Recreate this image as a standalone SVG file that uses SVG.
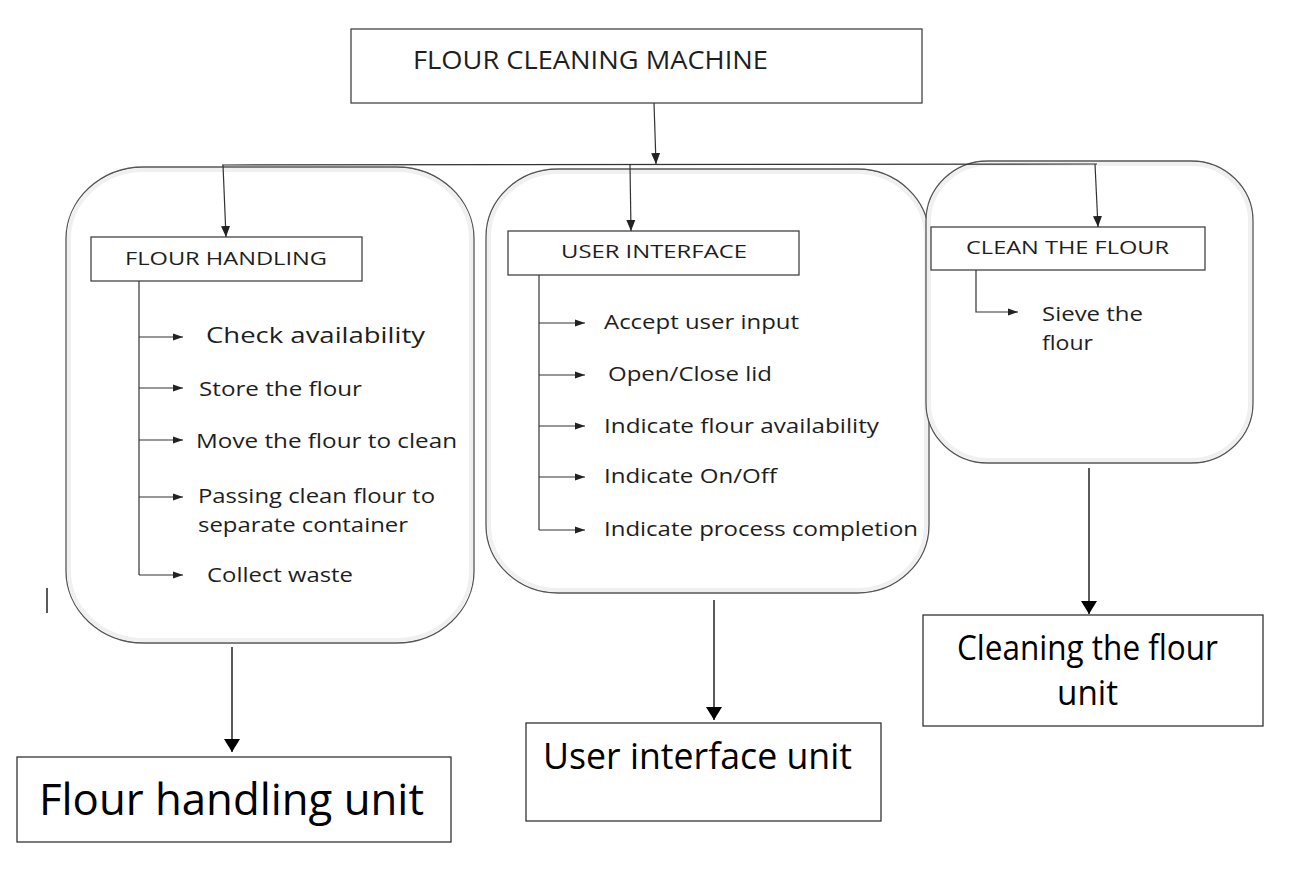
<svg xmlns="http://www.w3.org/2000/svg" width="1301" height="870" viewBox="0 0 1301 870">
<style>
  .t { font-family: "Open Sans", "Noto Sans", "Liberation Sans", sans-serif; fill: #1e1e1e; }
  .big { font-family: "Open Sans", "Noto Sans", "Liberation Sans", sans-serif; fill: #000; }
  .box { fill: #fff; stroke: #333; stroke-width: 1.3; }
  .hdr { fill: #fff; stroke: #444; stroke-width: 1.3; }
  .round { fill: #fff; stroke: #555; stroke-width: 1.3; }
  .shade { fill: none; stroke: #f0f0f0; stroke-width: 4; }
  .ln { fill: none; stroke: #333; stroke-width: 1.2; }
  .lnb { fill: none; stroke: #000; stroke-width: 1.3; }
</style>
<defs>
  <marker id="ah" markerUnits="userSpaceOnUse" markerWidth="12" markerHeight="10" refX="11" refY="5" orient="auto">
    <path d="M0,0.5 L11,5 L0,9.5 Z" fill="#222"/>
  </marker>
  <marker id="ahs" markerUnits="userSpaceOnUse" markerWidth="10" markerHeight="8" refX="10" refY="4" orient="auto">
    <path d="M0,0.5 L10,4 L0,7.5 Z" fill="#222"/>
  </marker>
  <marker id="ahb" markerUnits="userSpaceOnUse" markerWidth="14" markerHeight="16" refX="13" refY="8" orient="auto">
    <path d="M0,0 L13,8 L0,16 Z" fill="#000"/>
  </marker>
</defs>
<rect width="1301" height="870" fill="#fff"/>

<g id="group-flour-handling">
  <rect class="round" x="66" y="167" width="408" height="476" rx="78" ry="72"/>
  <rect class="shade" x="69" y="170" width="402" height="470" rx="75" ry="69"/>
</g>
<g id="group-user-interface">
  <rect class="round" x="486" y="169" width="443" height="424" rx="72" ry="68"/>
  <rect class="shade" x="489" y="172" width="437" height="418" rx="69" ry="65"/>
</g>
<g id="group-clean-the-flour">
  <rect class="round" x="926" y="161" width="327" height="302" rx="62" ry="60"/>
  <rect class="shade" x="929" y="164" width="321" height="296" rx="59" ry="57"/>
</g>

<g id="node-machine">
  <rect class="hdr" x="351" y="29" width="571" height="74"/>
  <text class="t" x="413" y="69" font-size="25" textLength="355" lengthAdjust="spacingAndGlyphs">FLOUR CLEANING MACHINE</text>
</g>

<g id="node-flour-handling">
  <rect class="hdr" x="91" y="237" width="271" height="44"/>
  <text class="t" x="125" y="265" font-size="18" textLength="202" lengthAdjust="spacingAndGlyphs">FLOUR HANDLING</text>
</g>
<g id="flour-handling-items">
  <text class="t" x="206" y="343" font-size="22" textLength="219" lengthAdjust="spacingAndGlyphs">Check availability</text>
  <text class="t" x="199" y="396" font-size="20" textLength="163" lengthAdjust="spacingAndGlyphs">Store the flour</text>
  <text class="t" x="196" y="448" font-size="20" textLength="261" lengthAdjust="spacingAndGlyphs">Move the flour to clean</text>
  <text class="t" x="198" y="503" font-size="20" textLength="237" lengthAdjust="spacingAndGlyphs">Passing clean flour to</text>
  <text class="t" x="198" y="532" font-size="20" textLength="210" lengthAdjust="spacingAndGlyphs">separate container</text>
  <text class="t" x="207" y="582" font-size="20" textLength="146" lengthAdjust="spacingAndGlyphs">Collect waste</text>
</g>

<g id="node-user-interface">
  <rect class="hdr" x="508" y="231" width="291" height="44"/>
  <text class="t" x="561" y="258" font-size="18" textLength="186" lengthAdjust="spacingAndGlyphs">USER INTERFACE</text>
</g>
<g id="user-interface-items">
  <text class="t" x="604" y="329" font-size="20" textLength="195" lengthAdjust="spacingAndGlyphs">Accept user input</text>
  <text class="t" x="608" y="381" font-size="20" textLength="164" lengthAdjust="spacingAndGlyphs">Open/Close lid</text>
  <text class="t" x="604" y="433" font-size="20" textLength="275" lengthAdjust="spacingAndGlyphs">Indicate flour availability</text>
  <text class="t" x="604" y="483" font-size="20" textLength="173" lengthAdjust="spacingAndGlyphs">Indicate On/Off</text>
  <text class="t" x="604" y="536" font-size="20" textLength="314" lengthAdjust="spacingAndGlyphs">Indicate process completion</text>
</g>

<g id="node-clean-the-flour">
  <rect class="hdr" x="931" y="227" width="274" height="43"/>
  <text class="t" x="966" y="254" font-size="18" textLength="203" lengthAdjust="spacingAndGlyphs">CLEAN THE FLOUR</text>
</g>
<g id="clean-the-flour-items">
  <text class="t" x="1042" y="321" font-size="20" textLength="101" lengthAdjust="spacingAndGlyphs">Sieve the</text>
  <text class="t" x="1042" y="350" font-size="20" textLength="51" lengthAdjust="spacingAndGlyphs">flour</text>
</g>

<g id="node-flour-handling-unit">
  <rect class="box" x="17" y="757" width="434" height="85"/>
  <text class="big" x="39" y="815" font-size="43" textLength="385" lengthAdjust="spacingAndGlyphs">Flour handling unit</text>
</g>
<g id="node-user-interface-unit">
  <rect class="box" x="526" y="723" width="355" height="98"/>
  <text class="big" x="543" y="769" font-size="36" textLength="309" lengthAdjust="spacingAndGlyphs">User interface unit</text>
</g>
<g id="node-cleaning-unit">
  <rect class="box" x="923" y="615" width="340" height="111"/>
  <text class="big" x="957" y="660" font-size="35" textLength="261" lengthAdjust="spacingAndGlyphs">Cleaning the flour</text>
  <text class="big" x="1057" y="705" font-size="35" textLength="61" lengthAdjust="spacingAndGlyphs">unit</text>
</g>

<g id="connectors">
  <path class="ln" d="M654,103 L656,164" marker-end="url(#ah)"/>
  <path class="ln" d="M222,165 L1097,164"/>
  <path class="ln" d="M223,165 L226,237" marker-end="url(#ah)"/>
  <path class="ln" d="M630,165 L631,231" marker-end="url(#ah)"/>
  <path class="ln" d="M1095,164 L1098,227" marker-end="url(#ah)"/>

  <path class="ln" d="M139,281 L139,575"/>
  <path class="ln" d="M139,337 L183,337" marker-end="url(#ahs)"/>
  <path class="ln" d="M139,388 L183,388" marker-end="url(#ahs)"/>
  <path class="ln" d="M139,440 L183,440" marker-end="url(#ahs)"/>
  <path class="ln" d="M139,497 L183,497" marker-end="url(#ahs)"/>
  <path class="ln" d="M139,575 L183,575" marker-end="url(#ahs)"/>

  <path class="ln" d="M539,275 L539,530"/>
  <path class="ln" d="M539,323 L585,323" marker-end="url(#ahs)"/>
  <path class="ln" d="M539,375 L585,375" marker-end="url(#ahs)"/>
  <path class="ln" d="M539,426 L585,426" marker-end="url(#ahs)"/>
  <path class="ln" d="M539,477 L585,477" marker-end="url(#ahs)"/>
  <path class="ln" d="M539,530 L585,530" marker-end="url(#ahs)"/>

  <path class="ln" d="M976,270 L976,312 L1018,312" marker-end="url(#ahs)"/>

  <path class="lnb" d="M232,647 L232,752" marker-end="url(#ahb)"/>
  <path class="lnb" d="M714,600 L714,720" marker-end="url(#ahb)"/>
  <path class="lnb" d="M1089,468 L1089,614" marker-end="url(#ahb)"/>
  <path class="lnb" d="M47,588 L47,613"/>
</g>
</svg>
